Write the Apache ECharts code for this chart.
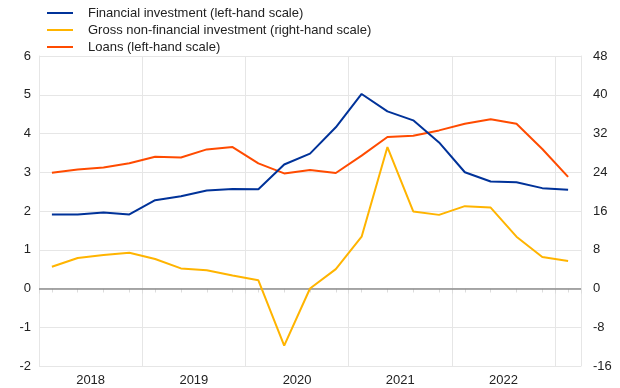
<!DOCTYPE html>
<html>
<head>
<meta charset="utf-8">
<script src="https://cdn.jsdelivr.net/npm/echarts@6/dist/echarts.min.js"></script>
<style>html,body{margin:0;padding:0;background:#fff}#c{width:620px;height:388px}</style>
</head>
<body>
<div id="c"></div>
<script>
var quarters = ['2018Q1','2018Q2','2018Q3','2018Q4','2019Q1','2019Q2','2019Q3','2019Q4','2020Q1','2020Q2','2020Q3','2020Q4','2021Q1','2021Q2','2021Q3','2021Q4','2022Q1','2022Q2','2022Q3','2022Q4','2023Q1'];
var yearLabels = ['2018','2019','2020','2021','2022'];
var financialInvestment = [1.91,1.91,1.96,1.91,2.28,2.38,2.53,2.57,2.56,3.2,3.48,4.16,5.02,4.57,4.34,3.77,3.0,2.76,2.74,2.59,2.55];
var grossNonFinancial = [4.5,6.3,6.9,7.4,6.1,4.15,3.75,2.7,1.7,-11.8,0.0,4.0,10.7,29.2,15.9,15.2,17.0,16.7,10.7,6.5,5.7];
var loans = [2.99,3.07,3.12,3.23,3.40,3.38,3.59,3.65,3.23,2.97,3.06,2.98,3.43,3.91,3.94,4.08,4.25,4.37,4.25,3.60,2.88];
var leftTicks = {min:-2, max:6, interval:1};
var rightTicks = {min:-16, max:48, interval:8};

var gridCol = '#e6e6e6';
var txt = '#222';
var font = 'Arial, "Liberation Sans", sans-serif';
var lineIcon = 'path://M0,0L0,0Z M0,6L26,6L26,8L0,8Z M26,14L26,14Z';
var chart = echarts.init(document.getElementById('c'), null, {renderer:'canvas'});
chart.setOption({
  animation: false,
  textStyle: {fontFamily: font},
  legend: {
    orient: 'vertical', left: 42, top: 1, itemWidth: 26, itemHeight: 14, itemGap: 3,
    icon: lineIcon,
    textStyle: {fontSize: 13, color: txt, fontFamily: font, padding: [0,0,0,10]},
    data: ['Financial investment (left-hand scale)','Gross non-financial investment (right-hand scale)','Loans (left-hand scale)']
  },
  grid: {left: 39, right: 39, top: 56, bottom: 22, containLabel: false},
  xAxis: [
    {type:'category', data: quarters, boundaryGap: true,
     axisLine:{show:false},
     axisTick:{show:true, alignWithLabel:true, interval:0, length:4, lineStyle:{color:'#dcdcdc'}},
     axisLabel:{show:false},
     splitLine:{show:true, interval:function(i){return i%4===0;}, lineStyle:{color:gridCol, width:1}}},
    {type:'category', data: quarters, boundaryGap: true, position:'bottom',
     axisLine:{show:false},
     axisTick:{show:true, alignWithLabel:false, interval:function(i){return i%4===0;}, length:5, lineStyle:{color:'#dcdcdc'}},
     axisLabel:{show:false}, splitLine:{show:false}},
    {type:'value', min:0, max:quarters.length, interval:2, position:'bottom',
     axisLine:{show:false}, axisTick:{show:false}, splitLine:{show:false},
     axisLabel:{show:true, margin:8, fontSize:13, color:txt, fontFamily:font, showMaxLabel:false,
       formatter:function(v){ if (v%4===2){ var k=(v-2)/4; return yearLabels[k]||''; } return ''; }}}
  ],
  yAxis: [
    {type:'value', min:leftTicks.min, max:leftTicks.max, interval:leftTicks.interval, position:'left',
     axisLine:{show:true, lineStyle:{color:gridCol}}, axisTick:{show:false},
     axisLabel:{fontSize:13, color:txt, margin:8, fontFamily:font},
     splitLine:{show:true, lineStyle:{color:gridCol, width:1}}},
    {type:'value', min:rightTicks.min, max:rightTicks.max, interval:rightTicks.interval, position:'right',
     axisLine:{show:true, lineStyle:{color:gridCol}}, axisTick:{show:false},
     axisLabel:{fontSize:13, color:txt, margin:12, fontFamily:font},
     splitLine:{show:false}}
  ],
  series: [
    {name:'Financial investment (left-hand scale)', type:'line', xAxisIndex:0, yAxisIndex:0, data: financialInvestment,
     symbol:'none', lineStyle:{color:'#003299', width:2}, itemStyle:{color:'#003299'}, z:4,
     markLine:{silent:true, symbol:'none', label:{show:false}, lineStyle:{color:'#8c8c8c', width:1.5, type:'solid'}, data:[{yAxis:0}], z:1}},
    {name:'Gross non-financial investment (right-hand scale)', type:'line', xAxisIndex:0, yAxisIndex:1, data: grossNonFinancial,
     symbol:'none', lineStyle:{color:'#ffb400', width:2}, itemStyle:{color:'#ffb400'}, z:3},
    {name:'Loans (left-hand scale)', type:'line', xAxisIndex:0, yAxisIndex:0, data: loans,
     symbol:'none', lineStyle:{color:'#ff4b00', width:2}, itemStyle:{color:'#ff4b00'}, z:3}
  ]
});
</script>
</body>
</html>
